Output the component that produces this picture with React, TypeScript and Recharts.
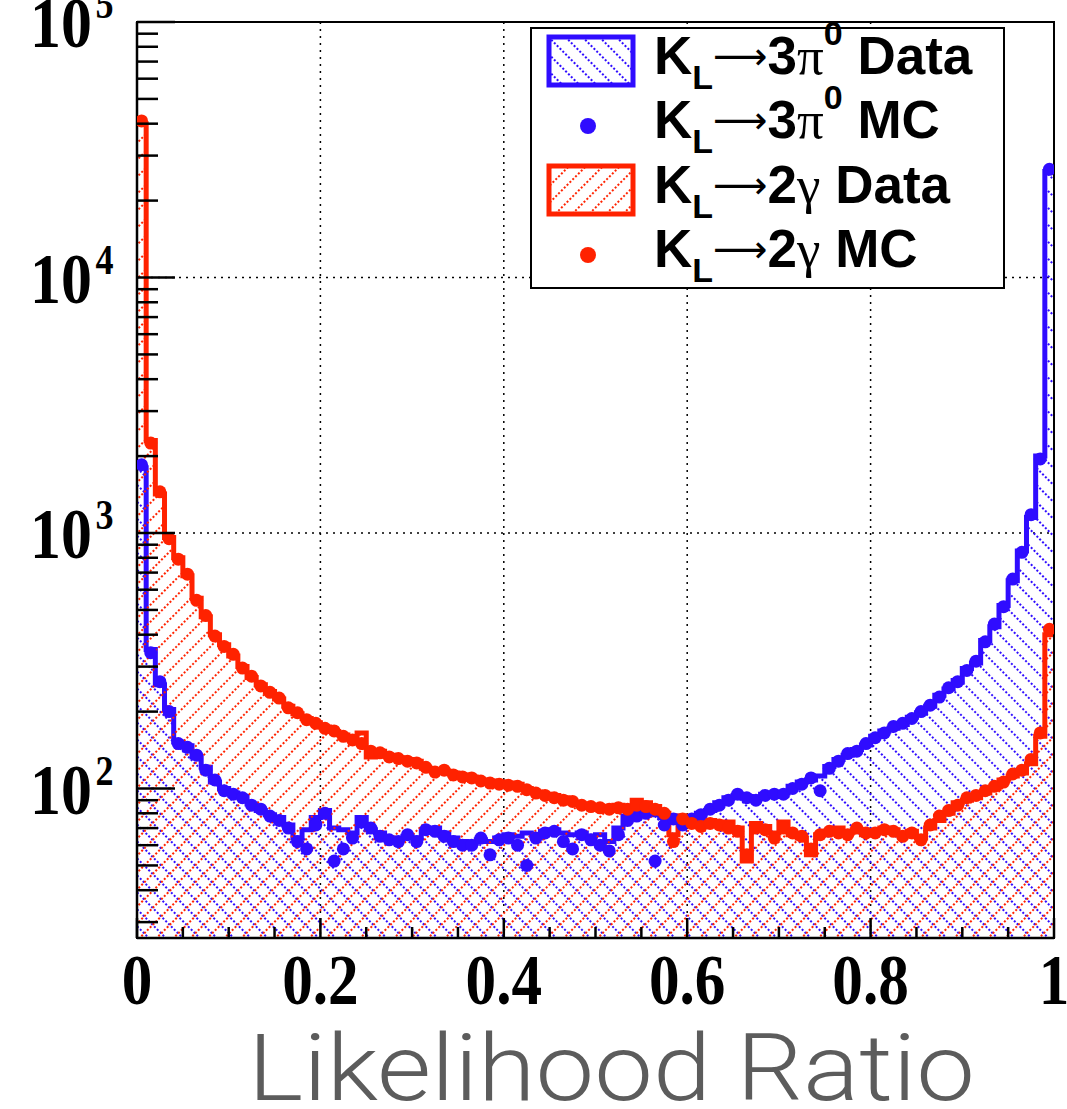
import React from 'react';
import { ComposedChart, Area, Scatter, XAxis, YAxis, CartesianGrid, ReferenceArea, Legend } from 'recharts';

const BLUE = '#2f0cff';
const RED = '#ff2200';
const BIN = 0.01;

// K_L -> 3pi0, data histogram (100 bins of 0.01)
const k3pi0Data = [
  1800, 350, 255, 204, 152, 147, 133, 121, 106, 100,
  96, 93, 87, 82, 79, 77, 72, 64, 69, 77,
  82, 70, 69, 67, 77, 69, 67, 64, 63, 65,
  64, 68, 70, 67, 64, 62, 61, 63, 62, 64,
  66, 65, 67, 66, 68, 69, 67, 66, 67, 65,
  66, 62, 70, 78, 80, 82, 79, 77, 78, 74,
  77, 80, 82, 88, 92, 94, 93, 92, 95, 93,
  96, 102, 106, 108, 112, 122, 130, 135, 142, 148,
  160, 168, 172, 178, 190, 198, 210, 232, 245, 265,
  295, 310, 380, 430, 520, 650, 850, 1150, 2000, 26000,
];

// K_L -> 3pi0, MC
const k3pi0MC = [
  1850, 340, 262, 200, 150, 145, 135, 118, 108, 98,
  95, 92, 86, 83, 78, 75, 70, 62, 58, 72,
  80, 52, 58, 64, 74, 70, 65, 63, 62, 66,
  62, 69, 68, 65, 62, 60, 60, 64, 55, 63,
  64, 60, 50, 64, 67, 68, 62, 58, 66, 63,
  60, 57, 66, 75, 78, 80, 52, 72, 76, 72,
  76, 79, 83, 86, 90, 95, 92, 90, 94, 95,
  95, 100, 104, 110, 98, 120, 128, 137, 140, 150,
  158, 165, 175, 180, 188, 200, 212, 228, 248, 262,
  290, 315, 375, 440, 515, 660, 840, 1180, 1950, 26500,
];

// K_L -> 2gamma, data histogram
const k2gData = [
  40000, 2300, 1420, 960, 800, 680, 555, 470, 400, 365,
  330, 300, 272, 255, 240, 224, 210, 196, 188, 181,
  174, 167, 162, 157, 165, 133, 140, 135, 132, 130,
  128, 120, 118, 117, 115, 113, 111, 108, 107, 106,
  105, 104, 100, 97, 95, 94, 92, 88, 87, 86,
  85, 84, 86, 82, 90, 88, 85, 80, 66, 78,
  74, 72, 75, 72, 74, 70, 52, 73, 71, 67,
  74, 66, 64, 55, 66, 68, 70, 67, 69, 66,
  68, 70, 69, 66, 68, 64, 70, 75, 80, 88,
  90, 92, 96, 100, 108, 112, 115, 125, 160, 400,
];

// K_L -> 2gamma, MC
const k2gMC = [
  41000, 2250, 1450, 950, 790, 690, 545, 475, 395, 360,
  335, 296, 275, 252, 238, 226, 207, 198, 186, 180,
  172, 168, 160, 155, 150, 140, 138, 133, 131, 128,
  126, 121, 116, 118, 113, 111, 110, 107, 105, 104,
  103, 102, 99, 96, 94, 92, 90, 89, 86, 85,
  84, 83, 84, 83, 86, 85, 83, 80, 62, 76,
  73, 71, 73, 72, 70, 68, 55, 70, 69, 64,
  70, 67, 65, 58, 66, 68, 67, 66, 70, 67,
  67, 69, 68, 65, 67, 63, 72, 78, 82, 86,
  92, 94, 98, 102, 106, 114, 118, 130, 165, 420,
];

const xTicks = [0, 0.05, 0.1, 0.15, 0.2, 0.25, 0.3, 0.35, 0.4, 0.45, 0.5, 0.55, 0.6, 0.65, 0.7, 0.75, 0.8, 0.85, 0.9, 0.95, 1];
const yTicks = [
  30, 40, 50, 60, 70, 80, 90,
  100, 200, 300, 400, 500, 600, 700, 800, 900,
  1000, 2000, 3000, 4000, 5000, 6000, 7000, 8000, 9000,
  10000, 20000, 30000, 40000, 50000, 60000, 70000, 80000, 90000,
  100000,
];
const yMajor = [100, 1000, 10000, 100000];

const histRows = (vals: number[]) => [
  ...vals.map((v, i) => ({ x: i * BIN, y: v })),
  { x: 1, y: vals[vals.length - 1] },
];
const mcRows = (vals: number[]) => vals.map((v, i) => ({ x: (i + 0.5) * BIN, y: v }));

function Hatch({ id, color, angle }: { id: string; color: string; angle: number }) {
  return (
    <pattern id={id} patternUnits="userSpaceOnUse" width={12} height={12} patternTransform={`rotate(${angle})`}>
      <line x1={6} y1={0} x2={6} y2={12} stroke={color} strokeWidth={2} strokeDasharray="2 2" />
    </pattern>
  );
}

const serif = '"Liberation Serif", "Times New Roman", serif';
const sans = '"Liberation Sans", Arial, sans-serif';

function XTick(props: any) {
  const { x, y, payload } = props;
  const v = payload.value as number;
  const major = Math.abs(v * 5 - Math.round(v * 5)) < 1e-6;
  return (
    <g>
      <line x1={x} x2={x} y1={y} y2={y - (major ? 20 : 11)} stroke="#000" strokeWidth={2.5} />
      {major && (
        <text
          transform={`translate(${x},${y + 66}) scale(0.85,1)`}
          textAnchor="middle"
          fontFamily={serif}
          fontWeight="bold"
          fontSize={72}
          fill="#000"
        >
          {String(Math.round(v * 10) / 10)}
        </text>
      )}
    </g>
  );
}

function YTick(props: any) {
  const { x, y, payload } = props;
  const v = payload.value as number;
  const major = yMajor.includes(v);
  return (
    <g>
      <line x1={x} x2={x + (major ? 38 : 21)} y1={y} y2={y} stroke="#000" strokeWidth={2.5} />
      {major && (
        <g transform={`translate(${x - 45},${y}) scale(0.86,1)`}>
          <text x={0} y={25} textAnchor="end" fontFamily={serif} fontWeight="bold" fontSize={72} fill="#000">
            10
          </text>
          <text x={4} y={-4} textAnchor="start" fontFamily={serif} fontWeight="bold" fontSize={42} fill="#000">
            {Math.round(Math.log10(v))}
          </text>
        </g>
      )}
    </g>
  );
}

function LegendRow({ y, color, kind, decay, tag }: { y: number; color: string; kind: 'box' | 'dot'; decay: '3pi' | '2g'; tag: string }) {
  return (
    <g>
      {kind === 'box' ? (
        <rect x={19} y={y - 37} width={84} height={48} fill={`url(#leg-${color === BLUE ? 'b' : 'r'})`} stroke={color} strokeWidth={5} />
      ) : (
        <circle cx={58} cy={y - 12} r={8} fill={color} />
      )}
      <text x={124} y={y} fontFamily={sans} fontWeight="bold" fontSize={53} fill="#000">
        K
        <tspan fontSize={34} dy={15}>L</tspan>
        <tspan fontFamily='"DejaVu Sans", sans-serif' fontWeight="normal" fontSize={38} dy={-20}>{'\u27f6'}</tspan>
        {decay === '3pi' ? (
          <>
            <tspan dy={5}>3</tspan>
            <tspan fontFamily={serif} fontWeight="normal">{'\u03c0'}</tspan>
            <tspan fontSize={34} dy={-29}>0</tspan>
            <tspan dy={29}>{' ' + tag}</tspan>
          </>
        ) : (
          <>
            <tspan dy={5}>2</tspan>
            <tspan fontFamily={serif} fontWeight="normal">{'\u03b3'}</tspan>
            <tspan>{' ' + tag}</tspan>
          </>
        )}
      </text>
    </g>
  );
}

function LegendBox() {
  return (
    <svg width={475} height={262} style={{ display: 'block', overflow: 'visible' }}>
      <defs>
        <Hatch id="leg-b" color={BLUE} angle={-45} />
        <Hatch id="leg-r" color={RED} angle={45} />
      </defs>
      <rect x={1} y={1} width={473} height={260} fill="#fff" stroke="#000" strokeWidth={2} />
      <LegendRow y={47} color={BLUE} kind="box" decay="3pi" tag="Data" />
      <LegendRow y={111} color={BLUE} kind="dot" decay="3pi" tag="MC" />
      <LegendRow y={176} color={RED} kind="box" decay="2g" tag="Data" />
      <LegendRow y={240} color={RED} kind="dot" decay="2g" tag="MC" />
    </svg>
  );
}

const dot = (color: string) => (p: any) => <circle cx={p.cx} cy={p.cy} r={6.5} fill={color} />;

export default function App() {
  return (
    <div style={{ position: 'absolute', left: 0, top: 0, width: 1067, height: 1109, background: '#fff' }}>
      <ComposedChart width={1067} height={1109} margin={{ top: 22, right: 13, bottom: 0, left: 0 }}>
        <defs>
          <Hatch id="hatch-blue" color={BLUE} angle={-45} />
          <Hatch id="hatch-red" color={RED} angle={45} />
        </defs>
        <CartesianGrid
          stroke="#000"
          strokeWidth={1.5}
          strokeDasharray="2 5"
          horizontalValues={[1000, 10000]}
          verticalValues={[0.2, 0.4, 0.6, 0.8]}
        />
        <XAxis
          type="number"
          dataKey="x"
          domain={[0, 1]}
          allowDataOverflow
          ticks={xTicks}
          interval={0}
          tick={(p: any) => <XTick {...p} />}
          tickLine={false}
          tickSize={0}
          tickMargin={0}
          axisLine={{ stroke: '#000', strokeWidth: 2.5 }}
          height={171}
          label={{
            content: () => (
              <text
                x={248}
                y={1100}
                fontFamily="Roboto, sans-serif"
                fontWeight={300}
                fontSize={92}
                fill="#5c5c5c"
                textLength={727}
                lengthAdjust="spacingAndGlyphs"
              >
                Likelihood Ratio
              </text>
            ),
          }}
        />
        <YAxis
          type="number"
          dataKey="y"
          scale="log"
          domain={[26, 100000]}
          allowDataOverflow
          ticks={yTicks}
          interval={0}
          width={137}
          tick={(p: any) => <YTick {...p} />}
          tickLine={false}
          tickSize={0}
          tickMargin={0}
          axisLine={{ stroke: '#000', strokeWidth: 2.5 }}
        />
        <Area
          data={histRows(k3pi0Data)}
          dataKey="y"
          type="stepAfter"
          baseValue={26}
          stroke={BLUE}
          strokeWidth={5}
          fill="url(#hatch-blue)"
          fillOpacity={1}
          dot={false}
          activeDot={false}
          isAnimationActive={false}
        />
        <Area
          data={histRows(k2gData)}
          dataKey="y"
          type="stepAfter"
          baseValue={26}
          stroke={RED}
          strokeWidth={5}
          fill="url(#hatch-red)"
          fillOpacity={1}
          dot={false}
          activeDot={false}
          isAnimationActive={false}
        />
        <Scatter data={mcRows(k3pi0MC)} fill={BLUE} shape={dot(BLUE)} isAnimationActive={false} />
        <Scatter data={mcRows(k2gMC)} fill={RED} shape={dot(RED)} isAnimationActive={false} />
        <ReferenceArea x1={0} x2={1} y1={26} y2={100000} fill="none" stroke="#000" strokeWidth={2} ifOverflow="visible" />
        <Legend
          content={() => <LegendBox />}
          layout="horizontal"
          verticalAlign="middle"
          wrapperStyle={{ left: 530, top: 27, width: 475, height: 262 }}
        />
      </ComposedChart>
    </div>
  );
}
